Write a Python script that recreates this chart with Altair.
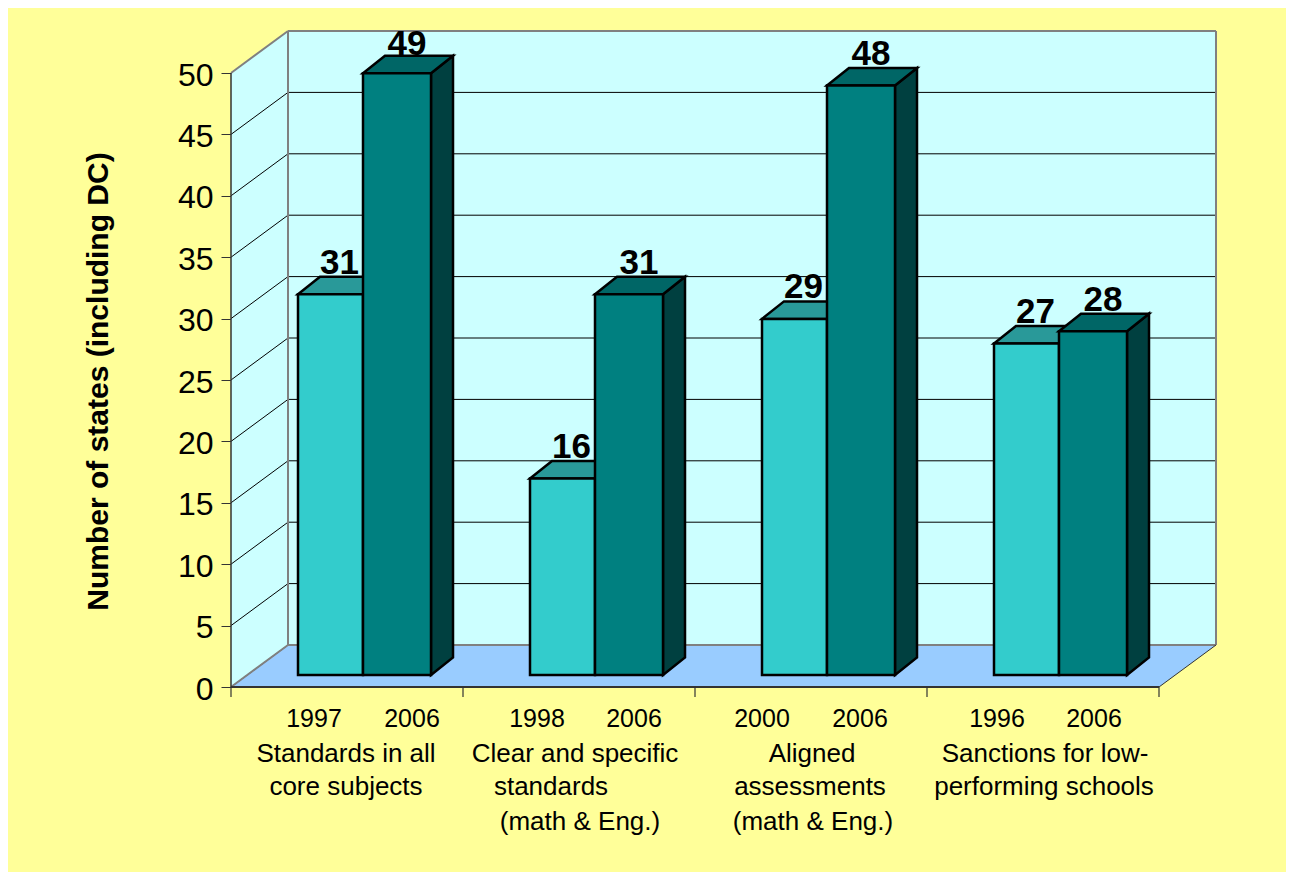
import altair as alt
import pandas as pd

# ---- data ----
groups = ["Standards in all core subjects", "Clear and specific standards (math & Eng.)",
          "Aligned assessments (math & Eng.)", "Sanctions for low-performing schools"]
first_values = [31, 16, 29, 27]
second_values = [49, 31, 48, 28]
first_lift_px = [20.5, 20.5, 20.5, 20.5]
second_lift_px = [18.5, 20.5, 20.5, 20.5]
y_ticks = [0, 5, 10, 15, 20, 25, 30, 35, 40, 45, 50]
year_labels = [["1997", "2006"], ["1998", "2006"], ["2000", "2006"], ["1996", "2006"]]
year_pos_px = [[314, 412], [537, 634], [762, 860], [997, 1094]]
category_lines = [("Standards in all", 346, 762), ("core subjects", 346, 795),
                  ("Clear and specific", 575, 762), ("standards", 551, 795), ("(math & Eng.)", 580, 830),
                  ("Aligned", 812, 762), ("assessments", 810, 795), ("(math & Eng.)", 813, 830),
                  ("Sanctions for low-", 1045, 762), ("performing schools", 1044, 795)]

# ---- geometry (page px -> data units) ----
X0, Y0, PX_X, PX_Y = 231.0, 687.0, 232.0, 12.28
xu = lambda px: (px - X0) / PX_X
yu = lambda px: (Y0 - px) / PX_Y
DEPTH_X, DEPTH_Y = 57.0 / PX_X, 42.0 / PX_Y
BAR_DX, BAR_DY = 22.0 / PX_X, 17.5 / PX_Y
BASE = 12.0 / PX_Y
N = 4
TOP = 50
L1, L2, L3 = xu(298), xu(363), xu(431)

Xs = alt.Scale(domain=[xu(231), xu(1286)], nice=False, zero=False)
Ys = alt.Scale(domain=[yu(872), yu(8)], nice=False, zero=False)
y_axis = alt.Axis(
    values=y_ticks, domain=False, grid=False, tickSize=10, tickColor="#333333", tickWidth=1,
    labelFont="Liberation Sans", labelFontSize=32, labelColor="#000000", labelPadding=8, labelFlush=False,
    labelOffset=2,
    title="Number of states (including DC)", titleFont="Liberation Sans", titleFontSize=30,
    titleFontWeight="bold", titleColor="#000000", titleX=-133, titleY=373, titleAngle=-90,
    titleBaseline="middle", titleAlign="center")
X = lambda f="x": alt.X(f"{f}:Q", scale=Xs, axis=None)
Y = lambda f="y": alt.Y(f"{f}:Q", scale=Ys, axis=y_axis)

GRAY = "#808080"

# walls and floor
left_wall = alt.Chart(pd.DataFrame({"x": [0, DEPTH_X], "y": [0, DEPTH_Y], "y2": [TOP, TOP + DEPTH_Y]})).mark_area(
    orient="vertical", color="#CCFFFF").encode(X(), Y(), y2="y2:Q")
back_wall = alt.Chart(pd.DataFrame({"x": [DEPTH_X, N + DEPTH_X], "y": [DEPTH_Y, DEPTH_Y], "y2": [TOP + DEPTH_Y] * 2})).mark_area(
    orient="vertical", color="#CCFFFF").encode(X(), Y(), y2="y2:Q")
floor = alt.Chart(pd.DataFrame({"y": [0, DEPTH_Y], "x": [0, DEPTH_X], "x2": [N, N + DEPTH_X]})).mark_area(
    orient="horizontal", color="#99CCFF").encode(Y(), X(), x2="x2:Q")

# gridlines
grid_rows = []
for v in y_ticks[1:-1]:
    grid_rows += [dict(v=v, x=DEPTH_X, y=v + DEPTH_Y), dict(v=v, x=N + DEPTH_X, y=v + DEPTH_Y)]
back_grid = alt.Chart(pd.DataFrame(grid_rows)).mark_line(color="#000000", strokeWidth=1).encode(X(), Y(), detail="v:N")
diag_rows = []
for v in y_ticks[:-1]:
    diag_rows += [dict(v=v, x=0, y=v), dict(v=v, x=DEPTH_X, y=v + DEPTH_Y)]
left_grid = alt.Chart(pd.DataFrame(diag_rows)).mark_line(color="#000000", strokeWidth=1).encode(X(), Y(), detail="v:N")

# gray wall frame
frame_rows = [
    dict(k="a", x=0, y=TOP), dict(k="a", x=DEPTH_X, y=TOP + DEPTH_Y),
    dict(k="b", x=DEPTH_X, y=TOP + DEPTH_Y), dict(k="b", x=N + DEPTH_X, y=TOP + DEPTH_Y),
    dict(k="c", x=DEPTH_X, y=DEPTH_Y), dict(k="c", x=N + DEPTH_X, y=DEPTH_Y),
    dict(k="d", x=0, y=0), dict(k="d", x=DEPTH_X, y=DEPTH_Y),
]
frame = alt.Chart(pd.DataFrame(frame_rows)).mark_line(color=GRAY, strokeWidth=2).encode(X(), Y(), detail="k:N")
frame_v = alt.Chart(pd.DataFrame({"x": [DEPTH_X, N + DEPTH_X], "y": [DEPTH_Y] * 2, "y2": [TOP + DEPTH_Y] * 2})).mark_rule(
    color=GRAY, strokeWidth=2).encode(X(), Y(), y2="y2:Q")

# axis lines and category ticks
floor_right = alt.Chart(pd.DataFrame({"x": [N, N + DEPTH_X], "y": [0, DEPTH_Y]})).mark_line(
    color="#333333", strokeWidth=1).encode(X(), Y())
axis_x = alt.Chart(pd.DataFrame({"x": [0], "x2": [N], "y": [0]})).mark_rule(
    color="#333333", strokeWidth=2).encode(X(), x2="x2:Q", y=Y())
axis_y = alt.Chart(pd.DataFrame({"x": [0], "y": [0], "y2": [TOP]})).mark_rule(
    color="#333333", strokeWidth=1.5).encode(X(), Y(), y2="y2:Q")
cat_ticks = alt.Chart(pd.DataFrame({"x": list(range(N + 1)), "y": [0] * (N + 1), "y2": [yu(697)] * (N + 1)})).mark_rule(
    color="#333333", strokeWidth=1.2).encode(X(), Y(), y2="y2:Q")

# bars
STROKE = dict(stroke="#000000", strokeWidth=2.5)


def front(values, a, b, color):
    df = pd.DataFrame([dict(x=i + a, x2=i + b, y=BASE, y2=BASE + v) for i, v in enumerate(values)])
    return alt.Chart(df).mark_rect(color=color, **STROKE).encode(X(), x2="x2:Q", y=Y(), y2="y2:Q")


def top(values, a, b, color):
    rows = []
    for i, v in enumerate(values):
        rows += [dict(g=i, y=BASE + v, x=i + a, x2=i + b),
                 dict(g=i, y=BASE + v + BAR_DY, x=i + a + BAR_DX, x2=i + b + BAR_DX)]
    return alt.Chart(pd.DataFrame(rows)).mark_area(orient="horizontal", color=color, **STROKE).encode(
        Y(), X(), x2="x2:Q", detail="g:N")


def side(values, b, color):
    rows = []
    for i, v in enumerate(values):
        rows += [dict(g=i, x=i + b, y=BASE, y2=BASE + v),
                 dict(g=i, x=i + b + BAR_DX, y=BASE + BAR_DY, y2=BASE + BAR_DY + v)]
    return alt.Chart(pd.DataFrame(rows)).mark_area(orient="vertical", color=color, **STROKE).encode(
        X(), Y(), y2="y2:Q", detail="g:N")


# value labels
value_rows = []
for i, (a, b) in enumerate(zip(first_values, second_values)):
    value_rows.append(dict(x=i + (L1 + L2) / 2 + 9 / PX_X, y=a + BASE + first_lift_px[i] / PX_Y, t=str(a)))
    value_rows.append(dict(x=i + (L2 + L3) / 2 + 10 / PX_X, y=b + BASE + second_lift_px[i] / PX_Y, t=str(b)))
value_text = alt.Chart(pd.DataFrame(value_rows)).mark_text(
    font="Liberation Sans", fontSize=35, fontWeight="bold", color="#000000", baseline="alphabetic", align="center"
).encode(X(), Y(), text="t:N")

# category texts
year_rows = []
for labs, pos in zip(year_labels, year_pos_px):
    for t, p in zip(labs, pos):
        year_rows.append(dict(x=xu(p), y=yu(727), t=t))
year_text = alt.Chart(pd.DataFrame(year_rows)).mark_text(
    font="Liberation Sans", fontSize=25, color="#000000", baseline="alphabetic", align="center"
).encode(X(), Y(), text="t:N")
cat_rows = [dict(x=xu(px), y=yu(py), t=t) for t, px, py in category_lines]
cat_text = alt.Chart(pd.DataFrame(cat_rows)).mark_text(
    font="Liberation Sans", fontSize=26, color="#000000", baseline="alphabetic", align="center"
).encode(X(), Y(), text="t:N")

chart = alt.layer(
    left_wall, back_wall, floor, back_grid, left_grid, frame, frame_v,
    floor_right, axis_x, axis_y, cat_ticks,
    top(first_values, L1, L2, "#299999"), front(first_values, L1, L2, "#33CCCC"),
    side(second_values, L3, "#004040"), top(second_values, L2, L3, "#006666"), front(second_values, L2, L3, "#008080"),
    value_text, year_text, cat_text,
).properties(
    width=1055, height=864, background="#FFFF99",
    padding={"left": 223, "top": 0, "right": 0, "bottom": 0},
    autosize=alt.AutoSizeParams(type="none"),
).configure_view(stroke=None)

chart.save("out.html", embed_options={"renderer": "svg", "actions": False})
